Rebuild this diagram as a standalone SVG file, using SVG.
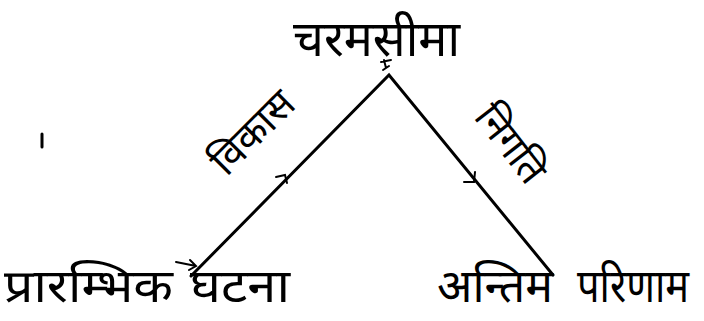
<svg xmlns="http://www.w3.org/2000/svg" width="704" height="321" viewBox="0 0 704 321">
<style>
.t{font-family:"Noto Sans Devanagari","Lohit Devanagari","Noto Sans","Liberation Sans",sans-serif;fill:#000}
.big{font-size:46px}
.ln{stroke:#000;stroke-width:3;fill:none;stroke-linecap:round}
.ah{stroke:#000;stroke-width:2;fill:none;stroke-linecap:round}
</style>
<rect width="704" height="321" fill="#fff"/>
<g id="connectors">
<path class="ln" d="M191 276 L389 75 L553 275"/>
<path class="ah" d="M276 177 L285 175 L287 183"/>
<path class="ah" d="M464 182 L474 182 L475 172"/>
<path class="ah" d="M176 262 L196 266 M190 260 L196 266 L189 270"/>
<path class="ah" d="M381 62 L391 60 M384 60 L386 68 M383 70 L389 66"/>
<path class="ln" d="M42 134 L42 147"/>
</g>
<g id="n-climax"><text class="t" font-size="50" x="293" y="56" textLength="167" lengthAdjust="spacingAndGlyphs">चरमसीमा</text></g>
<g id="n-vikas"><text class="t" font-size="40" transform="translate(262,142) rotate(-45)" text-anchor="middle">विकास</text></g>
<g id="n-nigati"><text class="t" font-size="40" transform="translate(500,152) rotate(52)" text-anchor="middle">निगति</text></g>
<g id="n-start"><text class="t big" x="4" y="302" textLength="169" lengthAdjust="spacingAndGlyphs">प्रारम्भिक</text><text class="t big" x="190" y="302" textLength="100" lengthAdjust="spacingAndGlyphs">घटना</text></g>
<g id="n-end"><text class="t big" x="437" y="302" textLength="116" lengthAdjust="spacingAndGlyphs">अन्तिम</text><text class="t" font-size="42" transform="translate(577,302) scale(1,1.1)" x="0" y="0" textLength="112" lengthAdjust="spacingAndGlyphs">परिणाम</text></g>
</svg>
